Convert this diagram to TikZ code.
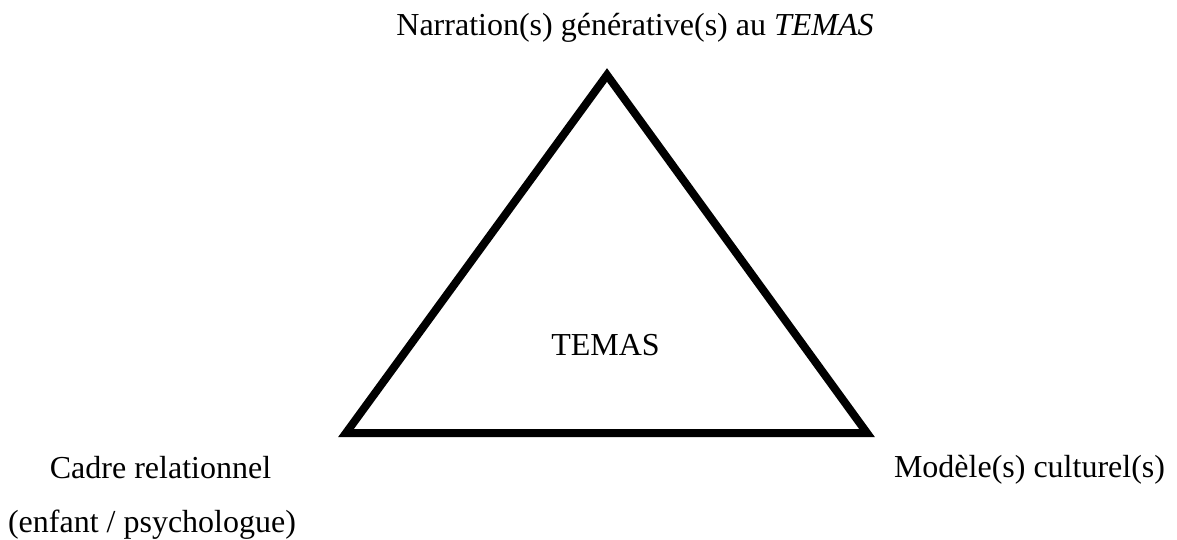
\documentclass[tikz,border=0pt]{standalone}
\usepackage{fontspec}
\setmainfont{Liberation Serif}
\usepackage{tikz}
\usetikzlibrary{positioning}

\begin{document}
\begin{tikzpicture}[x=1pt,y=-1pt,
    pole/.style={anchor=base,inner sep=0pt,font=\fontsize{32}{38}\selectfont}]
            \useasboundingbox (0,0) rectangle (1177,540);
            \coordinate (sommet) at (607,75);
            \coordinate (gauche) at (346,433);
            \coordinate (droite) at (867,433);
            \draw[line width=8pt,miter limit=10] (sommet) -- (gauche) -- (droite) -- cycle;
            \node[pole] (narration) at (635,36) {Narration(s) générative(s) au \textit{TEMAS}};
            \node[pole] (temas) at (605.5,355) {TEMAS};
            \node[pole] (cadre) at (160.5,478) {Cadre relationnel};
            \node[pole] (enfant) at (152,532) {(enfant / psychologue)};
            \node[pole] (modele) at (1029.5,477) {Modèle(s) culturel(s)};
        \end{tikzpicture}
\end{document}
